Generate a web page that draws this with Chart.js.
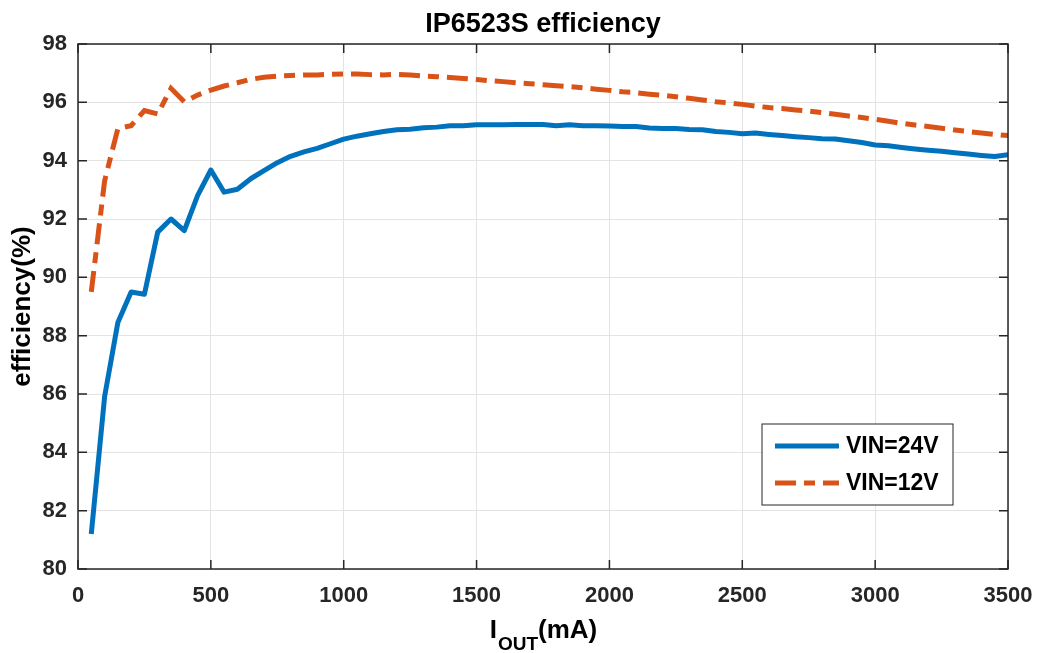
<!DOCTYPE html>
<html>
<head>
<meta charset="utf-8">
<script src="https://cdn.jsdelivr.net/npm/chart.js@4.4.1/dist/chart.umd.min.js"></script>
<style>
  html, body { margin: 0; padding: 0; background: #fff; }
  #wrap { width: 1039px; height: 653px; }
</style>
</head>
<body>
<div id="wrap"><canvas id="effChart" width="1039" height="653"></canvas></div>
<script>
// output current (mA)
const currents = [50, 100, 150, 200, 250, 300, 350, 400, 450, 500,
  550, 600, 650, 700, 750, 800, 850, 900, 950, 1000,
  1050, 1100, 1150, 1200, 1250, 1300, 1350, 1400, 1450, 1500,
  1550, 1600, 1650, 1700, 1750, 1800, 1850, 1900, 1950, 2000,
  2050, 2100, 2150, 2200, 2250, 2300, 2350, 2400, 2450, 2500,
  2550, 2600, 2650, 2700, 2750, 2800, 2850, 2900, 2950, 3000,
  3050, 3100, 3150, 3200, 3250, 3300, 3350, 3400, 3450, 3500];

const eff24 = [81.2, 85.9, 88.45, 89.5, 89.42, 91.55, 92.0, 91.6, 92.8, 93.68,
  92.92, 93.02, 93.38, 93.66, 93.93, 94.15, 94.3, 94.42, 94.58, 94.74,
  94.84, 94.92, 95.0, 95.06, 95.08, 95.13, 95.15, 95.2, 95.2, 95.23,
  95.23, 95.23, 95.24, 95.24, 95.24, 95.2, 95.23, 95.2, 95.2, 95.19,
  95.17, 95.17, 95.12, 95.1, 95.1, 95.07, 95.06, 95.0, 94.97, 94.92,
  94.95, 94.9, 94.86, 94.82, 94.79, 94.75, 94.74, 94.68, 94.62, 94.54,
  94.51, 94.45, 94.4, 94.36, 94.32, 94.27, 94.23, 94.18, 94.14, 94.2];

const eff12 = [89.5, 93.3, 95.1, 95.2, 95.72, 95.6, 96.48, 96.02, 96.25, 96.42,
  96.56, 96.67, 96.79, 96.86, 96.9, 96.92, 96.94, 96.94, 96.96, 96.97,
  96.97, 96.95, 96.94, 96.96, 96.94, 96.9, 96.88, 96.85, 96.82, 96.78,
  96.74, 96.71, 96.67, 96.64, 96.6, 96.57, 96.54, 96.5, 96.45, 96.41,
  96.36, 96.33, 96.28, 96.24, 96.19, 96.14, 96.08, 96.02, 95.98, 95.93,
  95.87, 95.82, 95.79, 95.74, 95.7, 95.65, 95.59, 95.53, 95.48, 95.42,
  95.35, 95.28, 95.22, 95.17, 95.11, 95.05, 95.0, 94.95, 94.9, 94.86];

const seriesNames = ['VIN=24V', 'VIN=12V'];
const xTicks = [0, 500, 1000, 1500, 2000, 2500, 3000, 3500];
const yTicks = [80, 82, 84, 86, 88, 90, 92, 94, 96, 98];

const FONT = '"Liberation Sans", Arial, sans-serif';
const INK = '#262626';

function toPoints(ys) {
  return currents.map((x, i) => ({ x: x, y: ys[i] }));
}

// title, axis labels, inward ticks, box, legend
const decorations = {
  id: 'decorations',
  afterDraw(chart) {
    const { ctx, chartArea: a } = chart;
    const xs = chart.scales.x, ys = chart.scales.y;
    ctx.save();

    // box
    ctx.strokeStyle = INK;
    ctx.lineWidth = 1.5;
    ctx.strokeRect(a.left, a.top, a.right - a.left, a.bottom - a.top);

    // inward ticks
    const tl = 9;
    ctx.beginPath();
    xTicks.forEach(v => {
      const px = xs.getPixelForValue(v);
      ctx.moveTo(px, a.bottom); ctx.lineTo(px, a.bottom - tl);
      ctx.moveTo(px, a.top); ctx.lineTo(px, a.top + tl);
    });
    yTicks.forEach(v => {
      const py = ys.getPixelForValue(v);
      ctx.moveTo(a.left, py); ctx.lineTo(a.left + tl, py);
      ctx.moveTo(a.right, py); ctx.lineTo(a.right - tl, py);
    });
    ctx.stroke();

    ctx.fillStyle = '#000';
    // title
    ctx.font = 'bold 27px ' + FONT;
    ctx.textAlign = 'center';
    ctx.textBaseline = 'alphabetic';
    ctx.fillText('IP6523S efficiency', (a.left + a.right) / 2, 32);

    // y label
    ctx.save();
    ctx.translate(23, (a.top + a.bottom) / 2);
    ctx.rotate(-Math.PI / 2);
    ctx.font = 'bold 26px ' + FONT;
    ctx.textBaseline = 'middle';
    ctx.fillText('efficiency(%)', 0, 0);
    ctx.restore();

    // x label with subscript
    const big = 'bold 26px ' + FONT, small = 'bold 19px ' + FONT;
    ctx.textAlign = 'left';
    ctx.textBaseline = 'alphabetic';
    ctx.font = big; const w1 = ctx.measureText('I').width;
    ctx.font = small; const w2 = ctx.measureText('OUT').width;
    ctx.font = big; const w3 = ctx.measureText('(mA)').width;
    let x0 = (a.left + a.right) / 2 - (w1 + w2 + w3) / 2;
    const base = 638;
    ctx.font = big; ctx.fillText('I', x0, base); x0 += w1 + 1;
    ctx.font = small; ctx.fillText('OUT', x0, base + 12); x0 += w2;
    ctx.font = big; ctx.fillText('(mA)', x0, base);

    // legend
    const lx = 762, ly = 424, lw = 191, lh = 81;
    ctx.fillStyle = '#fff';
    ctx.fillRect(lx, ly, lw, lh);
    ctx.strokeStyle = INK;
    ctx.lineWidth = 1;
    ctx.strokeRect(lx, ly, lw, lh);
    chart.data.datasets.forEach((ds, i) => {
      const cy = ly + 22 + i * 37;
      ctx.strokeStyle = ds.borderColor;
      ctx.lineWidth = ds.borderWidth;
      ctx.setLineDash(ds.borderDash || []);
      ctx.beginPath();
      ctx.moveTo(lx + 13, cy); ctx.lineTo(lx + 77, cy);
      ctx.stroke();
      ctx.setLineDash([]);
      ctx.fillStyle = '#000';
      ctx.font = 'bold 23px ' + FONT;
      ctx.textBaseline = 'middle';
      ctx.fillText(ds.label, lx + 84, cy + 1);
    });
    ctx.restore();
  }
};

new Chart(document.getElementById('effChart'), {
  type: 'line',
  data: {
    datasets: [{
      label: seriesNames[0],
      data: toPoints(eff24),
      borderColor: '#0072BD',
      borderWidth: 5,
      pointRadius: 0,
      tension: 0,
      borderJoinStyle: 'round'
    }, {
      label: seriesNames[1],
      data: toPoints(eff12),
      borderColor: '#D95319',
      borderWidth: 5,
      borderDash: [21, 8, 11, 8],
      pointRadius: 0,
      tension: 0
    }]
  },
  options: {
    responsive: false,
    animation: false,
    layout: { padding: { top: 44, right: 31, left: 0, bottom: 0 } },
    plugins: { legend: { display: false }, title: { display: false }, tooltip: { enabled: false } },
    scales: {
      x: {
        type: 'linear',
        min: 0, max: 3500,
        afterFit: s => { s.height = 84; s.paddingLeft = 0; s.paddingRight = 0; },
        afterBuildTicks: s => { s.ticks = xTicks.map(v => ({ value: v })); },
        grid: { color: '#e3e3e3', lineWidth: 1, drawTicks: false },
        border: { display: false },
        ticks: {
          color: INK, padding: 14, maxRotation: 0,
          font: { family: FONT, size: 22, weight: 'bold' },
          callback: v => String(v)
        }
      },
      y: {
        min: 80, max: 98,
        afterFit: s => { s.width = 78; s.paddingTop = 0; s.paddingBottom = 0; },
        afterBuildTicks: s => { s.ticks = yTicks.map(v => ({ value: v })); },
        grid: { color: '#e3e3e3', lineWidth: 1, drawTicks: false },
        border: { display: false },
        ticks: { color: INK, padding: 11, font: { family: FONT, size: 22, weight: 'bold' } }
      }
    }
  },
  plugins: [decorations]
});
</script>
</body>
</html>
